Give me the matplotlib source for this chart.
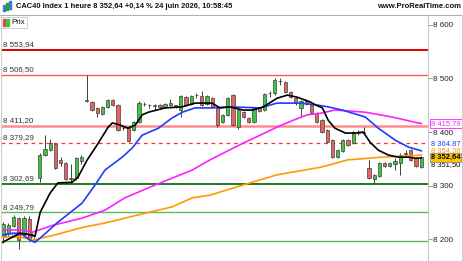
import numpy as np
import matplotlib.pyplot as plt
from matplotlib.patches import Rectangle
from matplotlib.ticker import FuncFormatter

plt.rcParams["font.family"] = ["Liberation Sans", "DejaVu Sans"]

# candles (hourly), index 0..80
opens = [8206, 8212, 8224, 8239, 8211, 8238, 8200, 8314, 8357, 8366,
         8377, 8348, 8342, 8313, 8314, 8346, 8458, 8456, 8445, 8434,
         8447, 8460, 8451, 8408, 8409, 8404, 8418, 8452, 8450, 8449,
         8451, 8447, 8454, 8450, 8441, 8465, 8453, 8469, 8467, 8453,
         8463, 8445, 8419, 8432, 8469, 8409, 8437, 8426, 8419, 8445,
         8441, 8472, 8472, 8495, 8493, 8475, 8463, 8445, 8458, 8451,
         8435, 8422, 8404, 8385, 8353, 8364, 8385, 8379, 8399, 8399,
         8333, 8312, 8318, 8342, 8336, 8340, 8342, 8359, 8366, 8351,
         8334]
closes = [8228, 8226, 8241, 8198, 8239, 8200, 8201, 8357, 8368, 8379,
          8333, 8342, 8312, 8314, 8351, 8353, 8460, 8441, 8435, 8447,
          8460, 8451, 8404, 8407, 8383, 8418, 8454, 8453, 8451, 8450,
          8447, 8453, 8450, 8447, 8467, 8451, 8467, 8470, 8451, 8467,
          8447, 8413, 8432, 8463, 8413, 8441, 8428, 8419, 8445, 8440,
          8471, 8473, 8497, 8496, 8475, 8465, 8455, 8458, 8453, 8435,
          8419, 8400, 8381, 8353, 8366, 8385, 8376, 8400, 8400, 8400,
          8314, 8320, 8342, 8336, 8342, 8345, 8357, 8360, 8348, 8336,
          8352.64]
highs = [8232, 8230, 8245, 8242, 8244, 8244, 8204, 8360, 8394, 8386,
         8379, 8353, 8344, 8341, 8354, 8357, 8506, 8458, 8447, 8449,
         8462, 8462, 8453, 8411, 8411, 8420, 8457, 8456, 8453, 8452,
         8453, 8455, 8462, 8451, 8469, 8467, 8469, 8472, 8476, 8469,
         8465, 8447, 8434, 8465, 8471, 8443, 8439, 8428, 8447, 8447,
         8473, 8476, 8500, 8500, 8495, 8477, 8465, 8460, 8461, 8453,
         8437, 8424, 8406, 8387, 8368, 8387, 8387, 8402, 8403, 8409,
         8348, 8322, 8344, 8344, 8344, 8352, 8360, 8366, 8368, 8353,
         8355]
lows = [8193, 8205, 8222, 8181, 8208, 8196, 8195, 8306, 8355, 8364,
        8331, 8337, 8310, 8304, 8311, 8341, 8456, 8439, 8428, 8432,
        8445, 8449, 8402, 8403, 8381, 8401, 8416, 8449, 8445, 8441,
        8445, 8445, 8448, 8445, 8428, 8449, 8451, 8463, 8449, 8451,
        8445, 8409, 8417, 8430, 8411, 8406, 8426, 8417, 8417, 8438,
        8439, 8465, 8470, 8488, 8473, 8463, 8451, 8430, 8451, 8433,
        8417, 8398, 8379, 8351, 8351, 8362, 8374, 8377, 8394, 8396,
        8312, 8303, 8316, 8334, 8334, 8329, 8320, 8355, 8346, 8334,
        8332]

# moving averages (x in candle index)
ma_black_x = [-0.5, 3.25, 5.7, 6.1, 7.1, 9.0, 10.5, 13.2, 14.35, 16.1, 18.0, 20.1, 20.9,
              22.4, 23.9, 25.3, 26.6, 27.8, 31.0, 34.3, 36.7, 40.0, 41.5, 43.4, 45.9,
              47.8, 49.8, 52.4, 54.4, 56.3, 58.8, 59.7, 61.1, 62.2, 63.5, 65.5, 67.4,
              68.9, 70.2, 71.8, 73.7, 75.6, 77.5, 78.9, 80]
ma_black_y = [8192, 8211, 8207, 8205, 8250, 8286, 8305, 8306, 8316, 8348, 8376, 8409, 8417,
              8413, 8407, 8413, 8432, 8437, 8445, 8447, 8454, 8454, 8445, 8447, 8441,
              8441, 8447, 8463, 8469, 8465, 8456, 8451, 8445, 8422, 8407, 8398, 8398,
              8400, 8381, 8366, 8357, 8353, 8353, 8351, 8351.5]
ma_blue_x = [-0.5, 1.9, 3.25, 5.2, 6.1, 7.7, 10.3, 15.1, 17.6, 19.5, 22.8, 24.7, 26.6,
             29.7, 32.3, 34.3, 36.7, 40.0, 43.4, 49.2, 52.4, 56.8, 59.7, 62.2, 64.9,
             69.3, 71.8, 75.0, 77.5, 80]
ma_blue_y = [8207, 8211, 8211, 8198, 8194, 8207, 8230, 8267, 8301, 8329, 8353, 8370, 8394,
             8407, 8426, 8437, 8445, 8445, 8447, 8445, 8454, 8454, 8451, 8447, 8441,
             8428, 8407, 8385, 8372, 8364.9]
ma_mag_x = [-0.5, 3.25, 5.7, 9.6, 15.1, 19.5, 23.3, 29.1, 36.2, 39.6, 45.9, 52.4, 55.5,
            58.2, 60.7, 63.5, 69.3, 74.4, 79.4, 80]
ma_mag_y = [8217, 8217, 8213, 8226, 8239, 8254, 8277, 8301, 8329, 8348, 8379, 8409, 8422,
            8432, 8435, 8441, 8437, 8428, 8417, 8415.8]
ma_orange_x = [-0.5, 3.25, 5.7, 9.6, 15.3, 19.5, 25.8, 32.3, 36.2, 39.6, 45.9, 52.4,
               60.7, 66.0, 72.5, 78.9, 80]
ma_orange_y = [8204, 8204, 8198, 8207, 8222, 8230, 8245, 8260, 8277, 8282, 8301, 8320,
               8334, 8348, 8353, 8356, 8357]

# support / resistance levels
levels = [8553.94, 8506.50, 8411.20, 8379.29, 8302.69, 8249.79, 8197.00]
level_labels = ["8 553,94", "8 506,50", "8 411,20", "8 379,29", "8 302,69", "8 249,79", "8 197,00"]
level_colors = ["#e00000", "#ff5a5a", "#ff8c8c", "#ff3030", "#1e7a1e", "#5cb85c", "#5cb85c"]
level_widths = [1.4, 1.0, 1.8, 0.9, 1.4, 1.0, 1.0]
level_styles = ["-", "-", "-", (0, (3, 3)), "-", "-", "-"]

yticks = [8200, 8300, 8400, 8500, 8600]

W, H = 464, 261
fig = plt.figure(figsize=(W / 100, H / 100), dpi=100)
fig.patch.set_facecolor("white")
ax = fig.add_axes([1 / W, 0, 427 / W, 246 / H])
ax.set_xlim(-0.4, 81.3)
ax.set_ylim(8159, 8618.6)

for lv, lab, c, lw, ls in zip(levels, level_labels, level_colors, level_widths, level_styles):
    ax.axhline(lv, color=c, lw=lw, ls=ls, zorder=2)
    ax.text(-0.1, lv + 3, lab, fontsize=5.7, color="#333333", va="bottom", ha="left", zorder=1)

x = np.arange(len(opens))
o = np.array(opens); c_ = np.array(closes)
up = c_ >= o
col = np.where(up, "#3cc83c", "#e46464")
ax.vlines(x, lows, highs, color="#404040", lw=0.7, zorder=4)
bot = np.minimum(o, c_)
hgt = np.maximum(np.abs(c_ - o), 0.8)
ax.bar(x, hgt, bottom=bot, width=0.62, color=col, edgecolor="#404040", linewidth=0.5, zorder=5)

ax.plot(ma_orange_x, ma_orange_y, color="#ff9a00", lw=1.2, zorder=6)
ax.plot(ma_mag_x, ma_mag_y, color="#ff20ff", lw=1.2, zorder=6)
ax.plot(ma_blue_x, ma_blue_y, color="#1f3cff", lw=1.2, zorder=6)
ax.plot(ma_black_x, ma_black_y, color="black", lw=1.2, zorder=7)

for s in ["top", "left", "bottom"]:
    ax.spines[s].set_visible(False)
ax.spines["right"].set_color("#c8c8c8")
ax.set_xticks([])
ax.yaxis.tick_right()
ax.set_yticks(yticks)
ax.yaxis.set_major_formatter(FuncFormatter(lambda v, p: f"{int(v):,}".replace(",", " ")))
ax.tick_params(axis="y", length=3, width=0.6, color="#888888", pad=0.5, labelsize=5.8, labelcolor="#222222")

# right-side value tags
def tag(yv, txt, color, face="white", edge=None, bold=False, z=10):
    ax.text(81.9, yv, txt, fontsize=5.4, color=color, ha="left", va="center",
            fontweight="bold" if bold else "normal", clip_on=False, zorder=z,
            bbox=dict(boxstyle="square,pad=0.1", fc=face, ec=edge if edge else face, lw=0.6))

tag(8415.79, "8 415,79", "#ff20ff", edge="#ff20ff")
tag(8378, "8 364,87", "#1f3cff", z=9)
tag(8365, "8 354,38", "#ff9a00", z=9)
tag(8352.64, "8 352,64", "black", face="#ffc400", edge="#909090", bold=True, z=11)
tag(8339, "8 351,50", "black", z=10)

# header
fig.add_artist(plt.Line2D([0, 1], [1 - 14.5 / H, 1 - 14.5 / H], color="#b0b0b0", lw=0.8))
fig.text(16 / W, 1 - 7 / H, "CAC40 Index 1 heure 8 352,64 +0,14 % 24 juin 2026, 10:58:45",
         fontsize=5.4, fontweight="bold", color="#111111", va="center", ha="left")
fig.text(461 / W, 1 - 7 / H, "www.ProRealTime.com", fontsize=5.5, fontweight="bold",
         color="#111111", va="center", ha="right")
for i, (hx, hc) in enumerate([(3, "#3a7bd5"), (6, "#2aa02a"), (9, "#3a7bd5")]):
    fig.add_artist(Rectangle((hx / W, 1 - (11 - i) / H), 2 / W, (6 + i) / H, color=hc))

# legend box "Prix"
fig.add_artist(Rectangle((1.5 / W, 1 - 28 / H), 26 / W, 11 / H, fc="white", ec="#c8c8c8", lw=0.6))
fig.add_artist(Rectangle((3.5 / W, 1 - 26 / H), 3 / W, 7 / H, color="#e04848"))
fig.add_artist(Rectangle((6.5 / W, 1 - 26 / H), 3 / W, 7 / H, color="#3cc83c"))
fig.text(11.5 / W, 1 - 22.5 / H, "Prix", fontsize=5.8, color="#111111", va="center", ha="left")

fig.add_artist(plt.Line2D([462.5 / W, 462.5 / W], [0, 1 - 15 / H], color="#d0d0d0", lw=0.8))
fig.add_artist(plt.Line2D([0.5 / W, 0.5 / W], [0, 1 - 15 / H], color="#d0d0d0", lw=0.8))

fig.savefig("out.png", dpi=100)
